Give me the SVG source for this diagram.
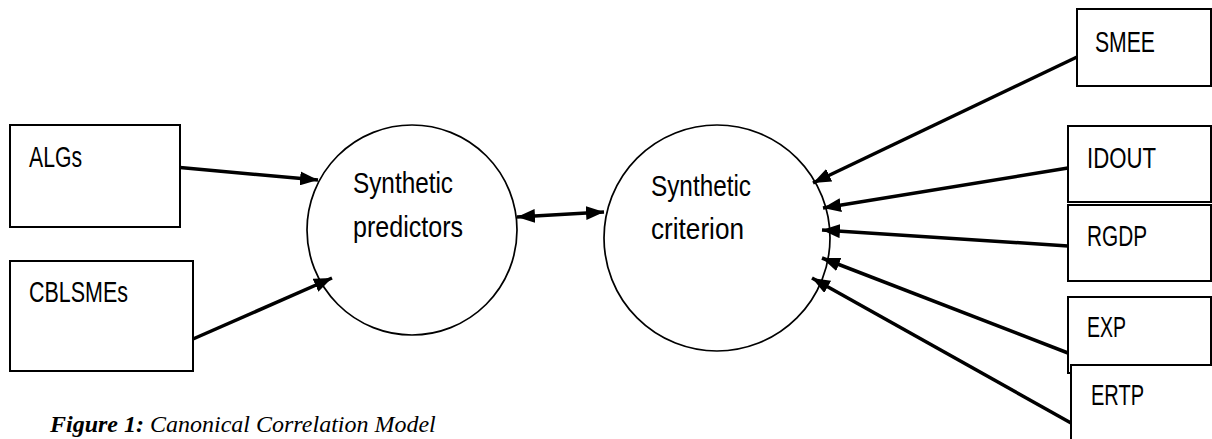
<svg xmlns="http://www.w3.org/2000/svg" width="1212" height="439" viewBox="0 0 1212 439">
<style>
.box{fill:#fff;stroke:#000;stroke-width:2}
.circ{fill:#fff;stroke:#000;stroke-width:1.7}
.lbl{font-family:"Liberation Sans",Arial,sans-serif;font-size:30px;fill:#000}
.conn line{stroke:#000;stroke-width:3.5;fill:none}
.cap{font-family:"Liberation Serif","Times New Roman",serif;font-size:24px;font-style:italic;fill:#000}
</style>
<defs>
<marker id="ah" viewBox="0 0 18 14" refX="18" refY="7" markerWidth="18" markerHeight="14" markerUnits="userSpaceOnUse" orient="auto-start-reverse">
<path d="M0,0 L18,7 L0,14 z" fill="#000"/>
</marker>
</defs>
<rect width="1212" height="439" fill="#fff"/>
<g id="ALGs"><rect class="box" x="10" y="125" width="170" height="102"/><text class="lbl" x="29" y="167" textLength="53" lengthAdjust="spacingAndGlyphs">ALGs</text></g>
<g id="CBLSMEs"><rect class="box" x="10" y="261" width="183" height="110"/><text class="lbl" x="29" y="302" textLength="99" lengthAdjust="spacingAndGlyphs">CBLSMEs</text></g>
<g id="predictors"><circle class="circ" cx="412" cy="230" r="105"/><text class="lbl" x="353" y="193" textLength="100" lengthAdjust="spacingAndGlyphs">Synthetic</text><text class="lbl" x="353" y="237" textLength="110" lengthAdjust="spacingAndGlyphs">predictors</text></g>
<g id="criterion"><circle class="circ" cx="717" cy="238" r="113"/><text class="lbl" x="651" y="196" textLength="100" lengthAdjust="spacingAndGlyphs">Synthetic</text><text class="lbl" x="651" y="239" textLength="93" lengthAdjust="spacingAndGlyphs">criterion</text></g>
<g id="SMEE"><rect class="box" x="1077" y="9" width="134" height="77"/><text class="lbl" x="1095" y="52" textLength="60" lengthAdjust="spacingAndGlyphs">SMEE</text></g>
<g id="IDOUT"><rect class="box" x="1068" y="126" width="143" height="76"/><text class="lbl" x="1087" y="168" textLength="69" lengthAdjust="spacingAndGlyphs">IDOUT</text></g>
<g id="RGDP"><rect class="box" x="1068" y="205" width="143" height="76"/><text class="lbl" x="1087" y="246" textLength="60" lengthAdjust="spacingAndGlyphs">RGDP</text></g>
<g id="EXP"><rect class="box" x="1068" y="297" width="143" height="76"/><text class="lbl" x="1087" y="337" textLength="39" lengthAdjust="spacingAndGlyphs">EXP</text></g>
<g id="ERTP"><rect class="box" x="1071" y="365" width="160" height="90"/><text class="lbl" x="1091" y="405" textLength="53" lengthAdjust="spacingAndGlyphs">ERTP</text></g>
<g id="connectors" class="conn">
<line x1="180" y1="167.5" x2="318" y2="180" marker-end="url(#ah)"/>
<line x1="193" y1="339" x2="332" y2="278" marker-end="url(#ah)"/>
<line x1="517" y1="217" x2="604" y2="212" marker-start="url(#ah)" marker-end="url(#ah)"/>
<line x1="1077" y1="57" x2="813" y2="183" marker-end="url(#ah)"/>
<line x1="1068" y1="168" x2="823" y2="208" marker-end="url(#ah)"/>
<line x1="1068" y1="246" x2="822" y2="230" marker-end="url(#ah)"/>
<line x1="1068" y1="353" x2="822" y2="258" marker-end="url(#ah)"/>
<line x1="1071" y1="423" x2="812" y2="278" marker-end="url(#ah)"/>
</g>
<text class="cap" x="50" y="432"><tspan font-weight="bold">Figure 1:</tspan> Canonical Correlation Model</text>
</svg>
